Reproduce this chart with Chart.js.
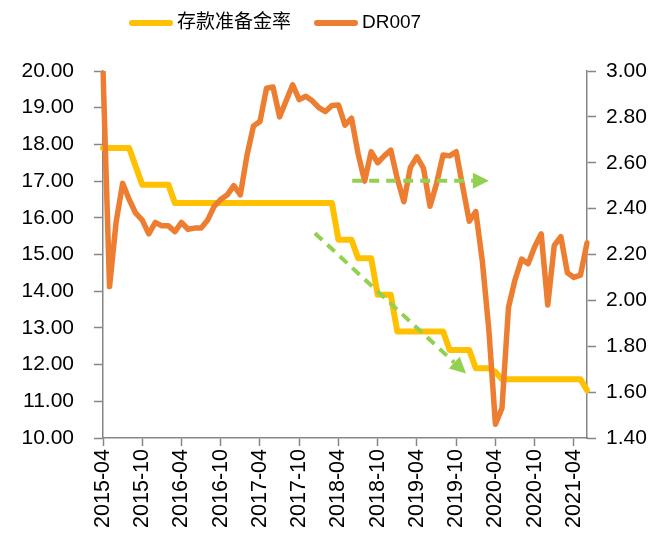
<!DOCTYPE html>
<html>
<head>
<meta charset="utf-8">
<title>存款准备金率 vs DR007</title>
<script src="https://cdn.jsdelivr.net/npm/chart.js@4.4.1/dist/chart.umd.min.js"></script>
<style>
    html, body { margin: 0; padding: 0; background: #fff; }
    #wrap { width: 654px; height: 534px; }
</style>
</head>
<body>
<div id="wrap"><canvas id="chart" width="654" height="534"></canvas></div>
<script>
// months 2015-04 .. 2021-06
const months = [
    '2015-04', '2015-05', '2015-06', '2015-07', '2015-08', '2015-09', '2015-10', '2015-11', '2015-12',
    '2016-01', '2016-02', '2016-03', '2016-04', '2016-05', '2016-06', '2016-07', '2016-08', '2016-09', '2016-10', '2016-11', '2016-12',
    '2017-01', '2017-02', '2017-03', '2017-04', '2017-05', '2017-06', '2017-07', '2017-08', '2017-09', '2017-10', '2017-11', '2017-12',
    '2018-01', '2018-02', '2018-03', '2018-04', '2018-05', '2018-06', '2018-07', '2018-08', '2018-09', '2018-10', '2018-11', '2018-12',
    '2019-01', '2019-02', '2019-03', '2019-04', '2019-05', '2019-06', '2019-07', '2019-08', '2019-09', '2019-10', '2019-11', '2019-12',
    '2020-01', '2020-02', '2020-03', '2020-04', '2020-05', '2020-06', '2020-07', '2020-08', '2020-09', '2020-10', '2020-11', '2020-12',
    '2021-01', '2021-02', '2021-03', '2021-04', '2021-05', '2021-06'
];

// 存款准备金率 (%), left axis
const rrr = [
    17.9, 17.9, 17.9, 17.9, 17.9, 17.4, 16.9, 16.9, 16.9,
    16.9, 16.9, 16.4, 16.4, 16.4, 16.4, 16.4, 16.4, 16.4, 16.4, 16.4, 16.4,
    16.4, 16.4, 16.4, 16.4, 16.4, 16.4, 16.4, 16.4, 16.4, 16.4, 16.4, 16.4,
    16.4, 16.4, 16.4, 15.4, 15.4, 15.4, 14.9, 14.9, 14.9, 13.9, 13.9, 13.9,
    12.9, 12.9, 12.9, 12.9, 12.9, 12.9, 12.9, 12.9, 12.4, 12.4, 12.4, 12.4,
    11.9, 11.9, 11.9, 11.8, 11.6, 11.6, 11.6, 11.6, 11.6, 11.6, 11.6, 11.6,
    11.6, 11.6, 11.6, 11.6, 11.6, 11.3
];

// DR007 (%), right axis
const dr007 = [
    3.00, 2.06, 2.34, 2.51, 2.44, 2.38, 2.35, 2.29, 2.34,
    2.325, 2.325, 2.30, 2.34, 2.31, 2.315, 2.315, 2.35, 2.41, 2.44, 2.46, 2.50,
    2.46, 2.63, 2.76, 2.78, 2.925, 2.93, 2.80, 2.87, 2.94, 2.875, 2.89, 2.87,
    2.84, 2.823, 2.85, 2.852, 2.764, 2.794, 2.64, 2.52, 2.648, 2.60, 2.63, 2.655,
    2.53, 2.43, 2.58, 2.626, 2.576, 2.41, 2.51, 2.634, 2.63, 2.648, 2.495, 2.345,
    2.387, 2.17, 1.87, 1.46, 1.53, 1.97, 2.09, 2.18, 2.16, 2.234, 2.29, 1.98,
    2.24, 2.278, 2.12, 2.10, 2.11, 2.25
];

// trend arrows, in data space: [monthIndex, value]
const trendArrows = [
    { axis: 'y',  from: [32.4, 15.58], to: [55.5, 11.76] },
    { axis: 'y1', from: [38.1, 2.522], to: [59.0, 2.522] }
];

const AXIS_GREY = '#868686';
const FONT = "'Liberation Sans', 'Noto Sans CJK SC', sans-serif";
Chart.defaults.font.family = FONT;
Chart.defaults.color = '#000';

// dashed green trend arrows
const arrowPlugin = {
    id: 'trendArrows',
    afterDatasetsDraw(chart) {
        const { ctx, scales } = chart;
        ctx.save();
        ctx.strokeStyle = '#92D050';
        ctx.fillStyle = '#92D050';
        ctx.lineWidth = 4;
        trendArrows.forEach(a => {
            const x1 = scales.x.getPixelForValue(a.from[0]);
            const y1 = scales[a.axis].getPixelForValue(a.from[1]);
            const x2 = scales.x.getPixelForValue(a.to[0]);
            const y2 = scales[a.axis].getPixelForValue(a.to[1]);
            const ang = Math.atan2(y2 - y1, x2 - x1);
            const headLen = 16, headHalf = 8;
            const bx = x2 - headLen * Math.cos(ang);
            const by = y2 - headLen * Math.sin(ang);
            ctx.setLineDash([10, 7]);
            ctx.beginPath();
            ctx.moveTo(x1, y1);
            ctx.lineTo(bx, by);
            ctx.stroke();
            ctx.setLineDash([]);
            ctx.beginPath();
            ctx.moveTo(x2, y2);
            ctx.lineTo(bx + headHalf * Math.sin(ang), by - headHalf * Math.cos(ang));
            ctx.lineTo(bx - headHalf * Math.sin(ang), by + headHalf * Math.cos(ang));
            ctx.closePath();
            ctx.fill();
        });
        ctx.restore();
    }
};

// legend row above the plot, line swatches like the original
const lineLegend = {
    id: 'lineLegend',
    afterDraw(chart) {
        const { ctx } = chart;
        let x = 129;
        const y = 23;
        ctx.save();
        ctx.font = '19px ' + FONT;
        ctx.textBaseline = 'middle';
        ctx.lineCap = 'round';
        chart.data.datasets.forEach(ds => {
            ctx.strokeStyle = ds.borderColor;
            ctx.lineWidth = 6;
            ctx.beginPath();
            ctx.moveTo(x + 3, y);
            ctx.lineTo(x + 41, y);
            ctx.stroke();
            ctx.fillStyle = '#000';
            ctx.fillText(ds.label, x + 48, y);
            x += 48 + ctx.measureText(ds.label).width + 23;
        });
        ctx.restore();
    }
};

new Chart(document.getElementById('chart'), {
    type: 'line',
    data: {
        labels: months,
        datasets: [
            {
                label: '存款准备金率',
                data: rrr,
                yAxisID: 'y',
                borderColor: '#FFC000',
                backgroundColor: '#FFC000',
                borderWidth: 6,
                order: 1
            },
            {
                label: 'DR007',
                data: dr007,
                yAxisID: 'y1',
                borderColor: '#ED7D31',
                backgroundColor: '#ED7D31',
                borderWidth: 5.5,
                order: 0
            }
        ]
    },
    options: {
        responsive: false,
        animation: false,
        devicePixelRatio: 1,
        elements: {
            point: { radius: 0, hoverRadius: 0 },
            line: { tension: 0, borderJoinStyle: 'round', borderCapStyle: 'round' }
        },
        layout: { padding: { top: 71, left: 0, right: 0, bottom: 0 } },
        plugins: {
            tooltip: { enabled: false },
            legend: { display: false }
        },
        scales: {
            x: {
                type: 'category',
                offset: false,
                grid: {
                    drawOnChartArea: false,
                    tickLength: 8,
                    tickWidth: 1.5,
                    tickColor: (c) => c.index % 6 === 0 ? AXIS_GREY : 'rgba(0,0,0,0)'
                },
                border: { color: AXIS_GREY, width: 1.5 },
                ticks: {
                    autoSkip: false,
                    maxRotation: 90,
                    minRotation: 90,
                    padding: 3,
                    font: { size: 21.5 },
                    callback: (v, i) => i % 6 === 0 ? months[i] : ''
                },
                afterFit: (s) => { s.height = 96; }
            },
            y: {
                position: 'left',
                min: 10,
                max: 20,
                grid: { drawOnChartArea: false, tickLength: 9, tickWidth: 1.5, tickColor: AXIS_GREY },
                border: { color: AXIS_GREY, width: 1.5 },
                ticks: {
                    stepSize: 1,
                    padding: 20,
                    font: { size: 21 },
                    callback: (v) => v.toFixed(2)
                },
                afterFit: (s) => { s.width = 103; }
            },
            y1: {
                position: 'right',
                min: 1.4,
                max: 3.0,
                grid: { drawOnChartArea: false, tickLength: 9, tickWidth: 1.5, tickColor: AXIS_GREY },
                border: { color: AXIS_GREY, width: 1.5 },
                ticks: {
                    stepSize: 0.2,
                    padding: 10,
                    font: { size: 21 },
                    callback: (v) => v.toFixed(2)
                },
                afterFit: (s) => { s.width = 67; }
            }
        }
    },
    plugins: [arrowPlugin, lineLegend]
});
</script>
</body>
</html>
